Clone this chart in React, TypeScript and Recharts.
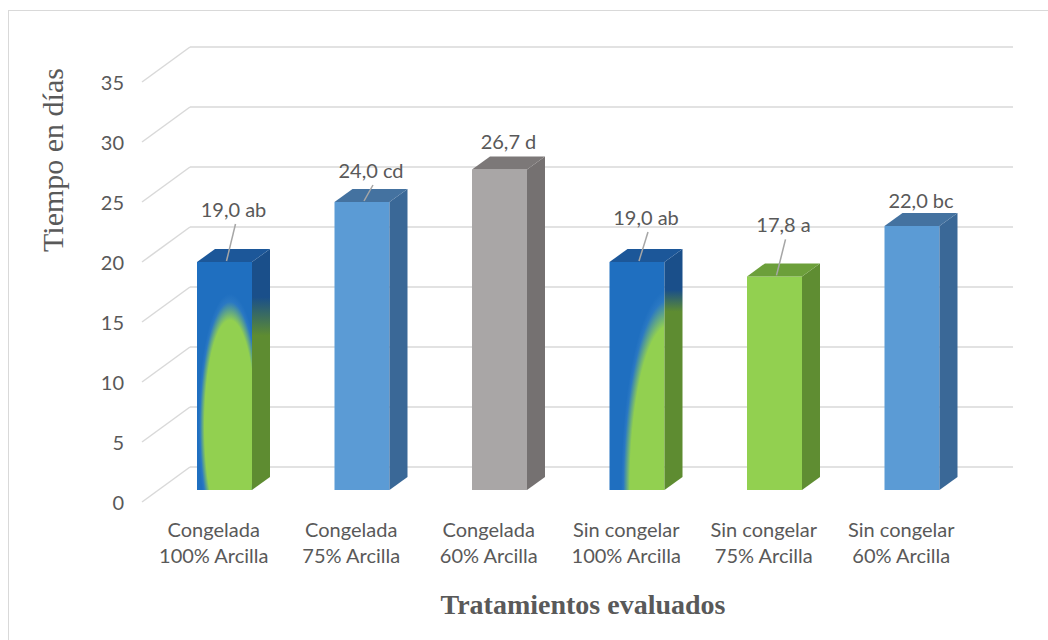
import React from "react";
import { BarChart, Bar, XAxis, YAxis, CartesianGrid, LabelList } from "recharts";

// treatments on the x axis (two lines each)
const treatments = ["Congelada", "Congelada", "Congelada", "Sin congelar", "Sin congelar", "Sin congelar"];
const clayShares = ["100% Arcilla", "75% Arcilla", "60% Arcilla", "100% Arcilla", "75% Arcilla", "60% Arcilla"];
// days until ... per treatment, with Tukey groups
const days = [19.0, 24.0, 26.7, 19.0, 17.8, 22.0];
const groups = ["ab", "cd", "d", "ab", "a", "bc"];
const yTicks = [0, 5, 10, 15, 20, 25, 30, 35];

const data = treatments.map((t, i) => ({
  name: t + "\n" + clayShares[i],
  days: days[i],
  label: days[i].toFixed(1).replace(".", ",") + " " + groups[i],
}));

// layout
const W = 1048;
const H = 640;
const MARGIN = { top: 70, right: 67, bottom: 90, left: 16 };
const Y_AXIS_W = 140;
const X_AXIS_H = 60;
const PLOT_LEFT = MARGIN.left + Y_AXIS_W;
const PLOT_BOTTOM = H - MARGIN.bottom - X_AXIS_H;
const DEPTH_X = 18;
const DEPTH_Y = 13;
const TEXT = "#595959";
const GRID = "#d9d9d9";
const SANS = "Lato, 'Open Sans', sans-serif";
const SERIF = "'Liberation Serif', 'Times New Roman', serif";
// hand-placed data labels, like in the original sheet
const LABEL_LIFT = [52, 31, 28, 44, 51, 25];
const BAR_LOOK = ["mixCenter", "blue", "gray", "mixCorner", "green", "blue"];

const LOOKS: any = {
  blue: { front: "#5b9bd5", side: "#3a6897", top: "#4472a0" },
  gray: { front: "#a9a6a6", side: "#757171", top: "#7c7878" },
  green: { front: "#92d050", side: "#5f8d32", top: "#6c9f3a" },
};

const BLUE = "#1f6fc0";
const DARK_BLUE = "#1a4f8a";
const GREEN = "#92d050";
const OLIVE = "#5e8c31";

function Box3D(props: any) {
  const { x, y, width, height, index } = props;
  if (!width || height == null) return null;
  const look = BAR_LOOK[index];
  const front = `M${x},${y} h${width} v${height} h${-width} Z`;
  const top = `M${x},${y} L${x + DEPTH_X},${y - DEPTH_Y} L${x + width + DEPTH_X},${y - DEPTH_Y} L${x + width},${y} Z`;
  const side = `M${x + width},${y} L${x + width + DEPTH_X},${y - DEPTH_Y} L${x + width + DEPTH_X},${y + height - DEPTH_Y} L${x + width},${y + height} Z`;

  if (look === "mixCenter" || look === "mixCorner") {
    const fid = `front-${index}`;
    const sid = `side-${index}`;
    const corner = look === "mixCorner";
    return (
      <g>
        <defs>
          {corner ? (
            <radialGradient id={fid} cx="1.09" cy="1.0" r="0.88">
              <stop offset="0" stopColor={GREEN} />
              <stop offset="0.82" stopColor={GREEN} />
              <stop offset="0.95" stopColor="#2a78c3" />
              <stop offset="1" stopColor={BLUE} />
            </radialGradient>
          ) : (
            <radialGradient id={fid} cx="0.6" cy="0.72" r="0.58">
              <stop offset="0" stopColor={GREEN} />
              <stop offset="0.8" stopColor={GREEN} />
              <stop offset="0.94" stopColor="#2a78c3" />
              <stop offset="1" stopColor={BLUE} />
            </radialGradient>
          )}
          <linearGradient id={sid} x1="0" y1="0" x2="0" y2="1">
            <stop offset={corner ? "0.17" : "0.2"} stopColor={DARK_BLUE} />
            <stop offset={corner ? "0.26" : "0.36"} stopColor={OLIVE} />
            <stop offset="1" stopColor={OLIVE} />
          </linearGradient>
        </defs>
        <path d={front} fill={`url(#${fid})`} />
        <path d={side} fill={`url(#${sid})`} />
        <path d={top} fill="#1c5799" />
      </g>
    );
  }

  const c = LOOKS[look];
  return (
    <g>
      <path d={front} fill={c.front} />
      <path d={side} fill={c.side} />
      <path d={top} fill={c.top} />
    </g>
  );
}

function BarLabel(props: any) {
  const { x, y, width, value, index } = props;
  const lift = LABEL_LIFT[index] ?? 40;
  const cx = x + width / 2 + DEPTH_X / 2;
  const ly = y - lift;
  return (
    <g>
      {lift > 30 && (
        <line x1={cx + 2} y1={ly + 14} x2={x + width / 2 + 2} y2={y - 1} stroke="#a6a6a6" strokeWidth={1.5} />
      )}
      <text x={cx} y={ly + 7} textAnchor="middle" fontFamily={SANS} fontSize={20} fill={TEXT}>
        {value}
      </text>
    </g>
  );
}

function GridLine(p: any) {
  const { x1, x2, y1 } = p;
  return (
    <g key={p.key}>
      <line x1={x1 - 14} y1={y1 + 12} x2={x1 + 34} y2={y1 - 23} stroke={GRID} strokeWidth={1.5} />
      <line x1={x1 + 34} y1={y1 - 23} x2={x2 + 32} y2={y1 - 23} stroke={GRID} strokeWidth={1.5} />
    </g>
  );
}

function ValueTick(props: any) {
  const { y, payload } = props;
  return (
    <text x={PLOT_LEFT - 32} y={y + 20} textAnchor="end" fontFamily={SANS} fontSize={20} fill={TEXT}>
      {payload.value}
    </text>
  );
}

function CategoryTick(props: any) {
  const { x, payload } = props;
  const lines = String(payload.value).split("\n");
  return (
    <g>
      {lines.map((l, i) => (
        <text key={i} x={x - 11} y={PLOT_BOTTOM + 47 + i * 26} textAnchor="middle" fontFamily={SANS} fontSize={20} fill={TEXT}>
          {l}
        </text>
      ))}
    </g>
  );
}

export default function App() {
  return (
    <div style={{ position: "fixed", left: 0, top: 0, width: W, height: H, overflow: "hidden", background: "#fff" }}>
      <div
        style={{
          position: "absolute",
          left: 8,
          top: 10,
          right: -10,
          bottom: -10,
          borderLeft: `1px solid ${GRID}`,
          borderTop: `1px solid ${GRID}`,
        }}
      />
      <div style={{ position: "absolute", left: 0, top: 0 }}>
        <BarChart width={W} height={H} data={data} margin={MARGIN}>
          <CartesianGrid vertical={false} horizontal={GridLine} />
          <XAxis dataKey="name" interval={0} axisLine={false} tickLine={false} height={X_AXIS_H} tick={<CategoryTick />} />
          <YAxis
            domain={[0, 35]}
            ticks={yTicks}
            width={Y_AXIS_W}
            axisLine={false}
            tickLine={false}
            tick={<ValueTick />}
          />
          <Bar dataKey="days" barSize={55} shape={Box3D} isAnimationActive={false}>
            <LabelList dataKey="label" content={BarLabel} />
          </Bar>
          <text
            x={63}
            y={160}
            transform="rotate(-90, 63, 160)"
            textAnchor="middle"
            fontFamily={SERIF}
            fontSize={30}
            fill={TEXT}
          >
            Tiempo en días
          </text>
          <text x={583} y={614} textAnchor="middle" fontFamily={SERIF} fontWeight="bold" fontSize={28} fill={TEXT}>
            Tratamientos evaluados
          </text>
        </BarChart>
      </div>
    </div>
  );
}
